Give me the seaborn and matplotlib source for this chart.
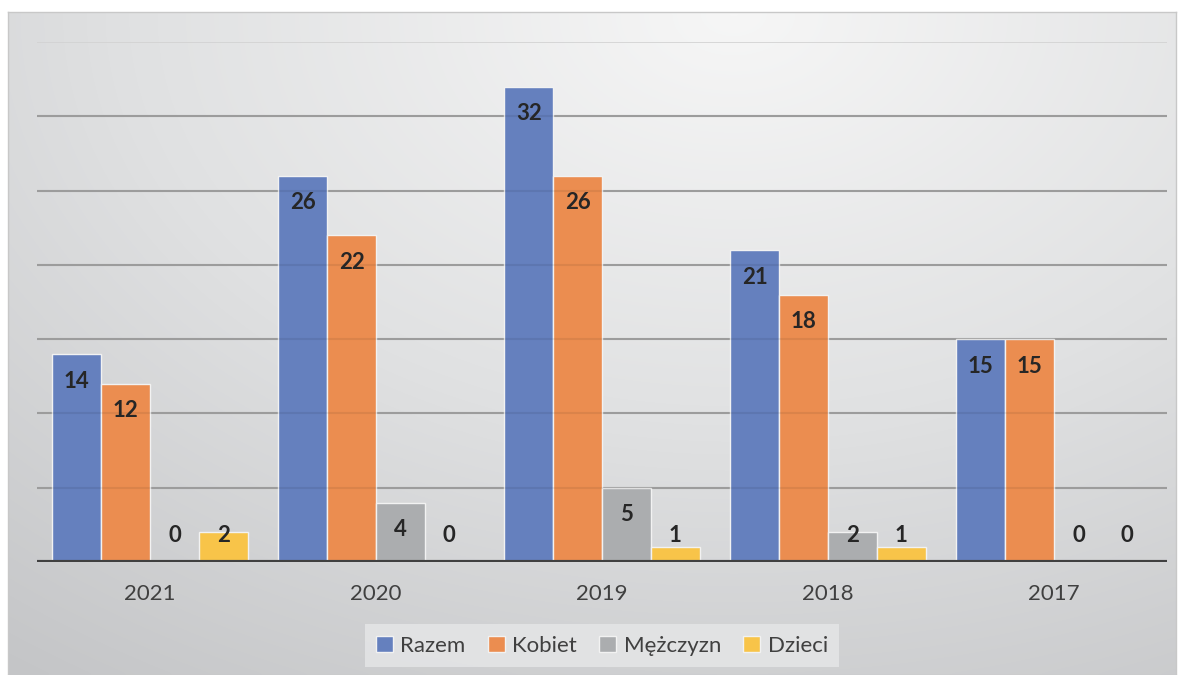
import numpy as np
import pandas as pd
import seaborn as sns
import matplotlib.pyplot as plt
from matplotlib.colors import LinearSegmentedColormap

# Data
years = ['2021', '2020', '2019', '2018', '2017']
series = ['Razem', 'Kobiet', 'Mężczyzn', 'Dzieci']
razem = [14, 26, 32, 21, 15]
kobiet = [12, 22, 26, 18, 15]
mezczyzn = [0, 4, 5, 2, 0]
dzieci = [2, 0, 1, 1, 0]
colors = ['#6580BE', '#EB8D50', '#ABADAF', '#F8C449']

# Long-form table for seaborn
df = pd.DataFrame({
    'rok': years * 4,
    'seria': np.repeat(series, len(years)),
    'liczba': razem + kobiet + mezczyzn + dzieci,
})

sns.set_theme(style='white')
plt.rcParams['font.family'] = ['Lato', 'DejaVu Sans']

fig = plt.figure(figsize=(11.84, 6.75), dpi=100)
fig.patch.set_facecolor('white')

# Gradient background (radial, light at the top middle)
bg = fig.add_axes([8 / 1184, 0, 1168 / 1184, 663 / 675], zorder=0)
h, w = 200, 350
yy, xx = np.mgrid[0:h, 0:w]
dist = np.sqrt(((xx - 0.62 * w) / w) ** 2 + ((yy - 0.0 * h) / (h * 1.2)) ** 2)
dist = dist / dist.max()
cmap = LinearSegmentedColormap.from_list('bg', ['#F6F6F6', '#E0E1E2', '#C4C5C7'])
bg.imshow(dist, cmap=cmap, aspect='auto', interpolation='bicubic')
bg.set_xticks([])
bg.set_yticks([])
for s in bg.spines.values():
    s.set_color('#C8C8C8')
    s.set_linewidth(1)

# Main chart
ax = fig.add_axes([37 / 1184, 113 / 675, 1130 / 1184, 520 / 675], zorder=1)
ax.patch.set_alpha(0)

for v in range(5, 35, 5):
    ax.axhline(v, color='#A8A8A8', lw=1.5, zorder=0)
ax.axhline(35, color='#D2D2D2', lw=1.2, zorder=0)

sns.barplot(data=df, x='rok', y='liczba', hue='seria', palette=colors,
            width=0.865, gap=0, edgecolor='#F2F2F2', linewidth=1.0,
            saturation=1, ax=ax, zorder=2)

# faint gridlines showing through the bars
for v in range(5, 35, 5):
    ax.axhline(v, color='black', alpha=0.07, lw=1.5, zorder=3)

ax.axhline(0, color='#404040', lw=3, zorder=4)

# value labels inside the top of each bar
for cont in ax.containers:
    for bar in cont:
        v = bar.get_height()
        x = bar.get_x() + bar.get_width() / 2
        y = max(v - 1.82, 1.75)
        ax.text(x, y, f'{v:.0f}', ha='center', va='center', fontsize=16,
                fontweight='bold', color='#262626', zorder=5)

ax.set_xlim(-0.5, 4.5)
ax.set_ylim(0, 35)
ax.set_xlabel('')
ax.set_ylabel('')
ax.set_yticks([])
ax.tick_params(axis='x', length=0, pad=16, labelsize=16, labelcolor='#404040')
for s in ax.spines.values():
    s.set_visible(False)

handles, labels = ax.get_legend_handles_labels()
ax.get_legend().remove()
leg = fig.legend(handles, labels, loc='center', bbox_to_anchor=(602 / 1184, 1 - 645.5 / 675),
                 ncol=4, frameon=True, fancybox=False, fontsize=16,
                 handlelength=0.75, handleheight=0.75, handletextpad=0.35,
                 columnspacing=1.0, borderpad=0.5, labelcolor='#404040')
leg.get_frame().set_facecolor('#E6E7E8')
leg.get_frame().set_edgecolor('none')
leg.set_zorder(3)

fig.savefig('out.png', dpi=100)
